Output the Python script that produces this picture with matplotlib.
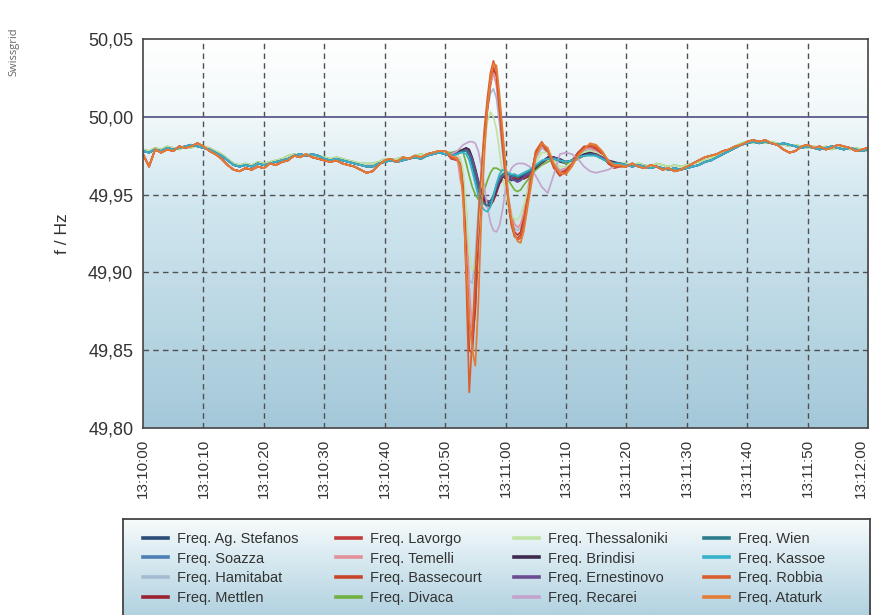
import matplotlib
matplotlib.use("Agg")
import numpy as np
import matplotlib.pyplot as plt
from matplotlib.colors import LinearSegmentedColormap
from matplotlib.lines import Line2D

plt.rcParams['font.family'] = ['Liberation Sans', 'DejaVu Sans']

# ------------------------------------------------------------
# data (seconds after 13:10:00, Hz)
# ------------------------------------------------------------
pre_t = list(range(0, 51))
post_t = list(range(80, 121))
ev_t = [51, 52, 52.5, 53, 53.5, 54, 54.5, 55, 55.5, 56, 56.5, 57, 57.5, 58, 58.5,
        59, 59.5, 60, 60.5, 61, 61.5, 62, 62.5, 63, 64, 65, 66, 67, 68, 69, 70,
        71, 72, 73, 74, 75, 76, 77, 78, 79]

# shared quiet parts of the band (three slightly different strands)
pre_cool = [49.978, 49.977, 49.979, 49.978, 49.980, 49.979, 49.980, 49.981, 49.982, 49.981,
            49.980, 49.979, 49.977, 49.975, 49.972, 49.969, 49.968, 49.969, 49.968, 49.970,
            49.969, 49.970, 49.971, 49.972, 49.973, 49.975, 49.976, 49.975, 49.976, 49.975,
            49.973, 49.972, 49.973, 49.972, 49.971, 49.970, 49.969, 49.968, 49.968, 49.970,
            49.971, 49.972, 49.971, 49.972, 49.973, 49.974, 49.973, 49.975, 49.976, 49.977,
            49.976]
post_cool = [49.969, 49.968, 49.969, 49.968, 49.967, 49.968, 49.967, 49.966, 49.967, 49.966,
             49.967, 49.968, 49.969, 49.971, 49.972, 49.974, 49.976, 49.978, 49.980, 49.982,
             49.983, 49.984, 49.983, 49.984, 49.983, 49.982, 49.983, 49.982, 49.981, 49.980,
             49.981, 49.980, 49.979, 49.980, 49.981, 49.980, 49.979, 49.980, 49.979, 49.978,
             49.979]
pre_warm = [49.976, 49.968, 49.979, 49.977, 49.979, 49.978, 49.981, 49.980, 49.981, 49.983,
            49.981, 49.978, 49.976, 49.973, 49.969, 49.966, 49.965, 49.967, 49.966, 49.968,
            49.967, 49.970, 49.969, 49.971, 49.972, 49.975, 49.974, 49.976, 49.974, 49.973,
            49.972, 49.971, 49.972, 49.970, 49.969, 49.968, 49.966, 49.964, 49.965, 49.969,
            49.972, 49.973, 49.971, 49.974, 49.973, 49.975, 49.974, 49.976, 49.977, 49.978,
            49.978]
post_warm = [49.968, 49.970, 49.968, 49.967, 49.969, 49.968, 49.966, 49.967, 49.965, 49.966,
             49.968, 49.970, 49.972, 49.974, 49.975, 49.976, 49.978, 49.979, 49.981, 49.982,
             49.984, 49.985, 49.984, 49.985, 49.983, 49.982, 49.979, 49.977, 49.978, 49.981,
             49.982, 49.980, 49.981, 49.979, 49.980, 49.982, 49.981, 49.980, 49.978, 49.979,
             49.980]
pre_green = [49.979, 49.978, 49.980, 49.979, 49.981, 49.980, 49.979, 49.981, 49.980, 49.982,
             49.981, 49.980, 49.978, 49.976, 49.973, 49.970, 49.969, 49.970, 49.969, 49.971,
             49.970, 49.971, 49.972, 49.973, 49.975, 49.976, 49.975, 49.976, 49.975, 49.975,
             49.974, 49.973, 49.974, 49.973, 49.972, 49.971, 49.970, 49.970, 49.970, 49.971,
             49.973, 49.972, 49.973, 49.974, 49.973, 49.975, 49.976, 49.975, 49.977, 49.978,
             49.977]
post_green = [49.970, 49.969, 49.970, 49.969, 49.968, 49.970, 49.969, 49.968, 49.969, 49.968,
              49.969, 49.970, 49.971, 49.972, 49.974, 49.975, 49.977, 49.979, 49.981, 49.983,
              49.984, 49.983, 49.984, 49.983, 49.984, 49.983, 49.982, 49.981, 49.982, 49.981,
              49.980, 49.981, 49.980, 49.981, 49.979, 49.980, 49.981, 49.979, 49.980, 49.979,
              49.978]

# event window, one strand per station
ev_ag_stefanos = [49.975, 49.976, 49.977, 49.978, 49.979, 49.977, 49.972, 49.965, 49.957, 49.950,
                  49.946, 49.944, 49.944, 49.947, 49.952, 49.957, 49.960, 49.961, 49.960, 49.959,
                  49.960, 49.959, 49.960, 49.961, 49.963, 49.967, 49.971, 49.973, 49.973, 49.971,
                  49.970, 49.972, 49.974, 49.975, 49.976, 49.975, 49.973, 49.971, 49.970, 49.969]
ev_soazza = [49.975, 49.976, 49.978, 49.979, 49.979, 49.976, 49.970, 49.962, 49.955, 49.948,
             49.944, 49.942, 49.943, 49.947, 49.953, 49.958, 49.961, 49.962, 49.962, 49.961,
             49.962, 49.961, 49.962, 49.962, 49.964, 49.968, 49.971, 49.974, 49.974, 49.972,
             49.971, 49.972, 49.974, 49.976, 49.977, 49.976, 49.974, 49.972, 49.970, 49.970]
ev_hamitabat = [49.975, 49.974, 49.972, 49.960, 49.925, 49.895, 49.893, 49.910, 49.940, 49.965,
                49.988, 50.005, 50.015, 50.018, 50.012, 49.996, 49.978, 49.960, 49.945, 49.934,
                49.928, 49.927, 49.929, 49.936, 49.957, 49.973, 49.980, 49.977, 49.970, 49.966,
                49.967, 49.971, 49.975, 49.978, 49.979, 49.978, 49.975, 49.971, 49.969, 49.969]
ev_mettlen = [49.976, 49.977, 49.978, 49.979, 49.980, 49.978, 49.973, 49.966, 49.958, 49.951,
              49.946, 49.943, 49.943, 49.946, 49.951, 49.957, 49.960, 49.961, 49.961, 49.960,
              49.961, 49.960, 49.961, 49.960, 49.962, 49.966, 49.970, 49.973, 49.974, 49.972,
              49.970, 49.971, 49.973, 49.975, 49.976, 49.976, 49.974, 49.972, 49.970, 49.969]
ev_lavorgo = [49.973, 49.972, 49.970, 49.958, 49.915, 49.868, 49.856, 49.875, 49.918, 49.955,
              49.982, 50.004, 50.020, 50.030, 50.027, 50.010, 49.988, 49.966, 49.946, 49.933,
              49.926, 49.924, 49.926, 49.935, 49.958, 49.976, 49.982, 49.978, 49.969, 49.964,
              49.966, 49.972, 49.977, 49.980, 49.980, 49.979, 49.975, 49.970, 49.968, 49.969]
ev_temelli = [49.976, 49.974, 49.960, 49.952, 49.940, 49.890, 49.862, 49.885, 49.925, 49.960,
              49.988, 50.008, 50.022, 50.028, 50.020, 50.000, 49.980, 49.962, 49.947, 49.937,
              49.931, 49.929, 49.931, 49.938, 49.960, 49.976, 49.981, 49.977, 49.969, 49.965,
              49.967, 49.972, 49.976, 49.979, 49.980, 49.978, 49.975, 49.971, 49.969, 49.969]
ev_bassecourt = [49.974, 49.973, 49.969, 49.950, 49.905, 49.850, 49.848, 49.880, 49.925, 49.958,
                 49.985, 50.008, 50.024, 50.032, 50.026, 50.005, 49.982, 49.962, 49.943, 49.930,
                 49.923, 49.922, 49.924, 49.932, 49.957, 49.977, 49.983, 49.977, 49.967, 49.962,
                 49.965, 49.971, 49.977, 49.981, 49.981, 49.980, 49.976, 49.970, 49.967, 49.968]
ev_divaca = [49.977, 49.978, 49.979, 49.977, 49.970, 49.962, 49.955, 49.950, 49.947, 49.948,
             49.953, 49.959, 49.964, 49.967, 49.967, 49.966, 49.964, 49.962, 49.959, 49.956,
             49.953, 49.952, 49.953, 49.956, 49.961, 49.966, 49.969, 49.971, 49.973, 49.972,
             49.970, 49.971, 49.973, 49.975, 49.976, 49.975, 49.973, 49.971, 49.970, 49.970]
ev_thessaloniki = [49.976, 49.975, 49.974, 49.965, 49.940, 49.912, 49.901, 49.905, 49.930, 49.958,
                   49.982, 49.997, 50.003, 50.000, 49.992, 49.978, 49.963, 49.951, 49.942, 49.937,
                   49.934, 49.934, 49.937, 49.943, 49.957, 49.970, 49.977, 49.977, 49.972, 49.968,
                   49.968, 49.971, 49.975, 49.977, 49.978, 49.977, 49.975, 49.972, 49.970, 49.970]
ev_brindisi = [49.976, 49.977, 49.978, 49.979, 49.980, 49.979, 49.974, 49.967, 49.959, 49.952,
               49.947, 49.945, 49.945, 49.948, 49.953, 49.958, 49.961, 49.962, 49.961, 49.962,
               49.963, 49.962, 49.961, 49.962, 49.964, 49.967, 49.971, 49.974, 49.974, 49.973,
               49.971, 49.972, 49.974, 49.976, 49.977, 49.976, 49.974, 49.972, 49.971, 49.970]
ev_ernestinovo = [49.976, 49.977, 49.977, 49.978, 49.979, 49.977, 49.973, 49.966, 49.958, 49.952,
                  49.948, 49.946, 49.946, 49.949, 49.954, 49.959, 49.962, 49.962, 49.961, 49.960,
                  49.959, 49.958, 49.959, 49.961, 49.964, 49.968, 49.971, 49.973, 49.974, 49.972,
                  49.971, 49.972, 49.974, 49.975, 49.976, 49.976, 49.974, 49.972, 49.970, 49.970]
ev_recarei = [49.976, 49.978, 49.980, 49.982, 49.983, 49.984, 49.984, 49.983, 49.978, 49.968,
              49.955, 49.942, 49.932, 49.927, 49.926, 49.930, 49.940, 49.953, 49.962, 49.967,
              49.969, 49.970, 49.970, 49.970, 49.968, 49.962, 49.955, 49.951, 49.963, 49.976,
              49.977, 49.976, 49.973, 49.968, 49.965, 49.964, 49.965, 49.966, 49.968, 49.969]
ev_wien = [49.975, 49.976, 49.977, 49.978, 49.978, 49.975, 49.969, 49.961, 49.953, 49.947,
           49.944, 49.943, 49.945, 49.950, 49.956, 49.961, 49.963, 49.964, 49.963, 49.962,
           49.962, 49.961, 49.962, 49.963, 49.965, 49.968, 49.971, 49.973, 49.973, 49.972,
           49.971, 49.972, 49.974, 49.975, 49.976, 49.975, 49.973, 49.971, 49.970, 49.970]
ev_kassoe = [49.975, 49.976, 49.977, 49.977, 49.976, 49.972, 49.965, 49.957, 49.949, 49.943,
             49.940, 49.939, 49.942, 49.949, 49.957, 49.963, 49.966, 49.965, 49.964, 49.963,
             49.963, 49.962, 49.963, 49.964, 49.966, 49.969, 49.972, 49.973, 49.973, 49.972,
             49.971, 49.972, 49.974, 49.975, 49.975, 49.975, 49.973, 49.971, 49.970, 49.970]
ev_robbia = [49.974, 49.972, 49.970, 49.955, 49.895, 49.823, 49.858, 49.900, 49.935, 49.965,
             49.992, 50.012, 50.028, 50.036, 50.030, 50.008, 49.985, 49.964, 49.944, 49.931,
             49.924, 49.921, 49.922, 49.930, 49.956, 49.978, 49.984, 49.978, 49.968, 49.963,
             49.964, 49.970, 49.976, 49.980, 49.982, 49.981, 49.977, 49.971, 49.968, 49.968]
ev_ataturk = [49.975, 49.973, 49.968, 49.945, 49.905, 49.870, 49.850, 49.840, 49.880, 49.935,
              49.975, 50.005, 50.024, 50.034, 50.033, 50.015, 49.992, 49.970, 49.948, 49.934,
              49.925, 49.920, 49.919, 49.926, 49.950, 49.974, 49.983, 49.980, 49.970, 49.964,
              49.963, 49.968, 49.975, 49.979, 49.983, 49.982, 49.978, 49.972, 49.969, 49.969]

names = ["Freq. Ag. Stefanos", "Freq. Soazza", "Freq. Hamitabat", "Freq. Mettlen",
         "Freq. Lavorgo", "Freq. Temelli", "Freq. Bassecourt", "Freq. Divaca",
         "Freq. Thessaloniki", "Freq. Brindisi", "Freq. Ernestinovo", "Freq. Recarei",
         "Freq. Wien", "Freq. Kassoe", "Freq. Robbia", "Freq. Ataturk"]
events = [ev_ag_stefanos, ev_soazza, ev_hamitabat, ev_mettlen,
          ev_lavorgo, ev_temelli, ev_bassecourt, ev_divaca,
          ev_thessaloniki, ev_brindisi, ev_ernestinovo, ev_recarei,
          ev_wien, ev_kassoe, ev_robbia, ev_ataturk]
strand = ["cool", "cool", "cool", "warm", "warm", "warm", "warm", "green",
          "green", "cool", "cool", "cool", "cool", "cool", "warm", "warm"]

x_ticks = [0, 10, 20, 30, 40, 50, 60, 70, 80, 90, 100, 110, 120]
x_labels = ["13:10:00", "13:10:10", "13:10:20", "13:10:30", "13:10:40", "13:10:50",
            "13:11:00", "13:11:10", "13:11:20", "13:11:30", "13:11:40", "13:11:50",
            "13:12:00"]
y_ticks = [49.80, 49.85, 49.90, 49.95, 50.00, 50.05]

colors = ["#2c4a78", "#4d7fb4", "#a4bcd2", "#9c2232",
          "#c23a3a", "#e2909a", "#c8452c", "#72b042",
          "#bfe3a4", "#3e2a4e", "#6b4c92", "#c4a4cc",
          "#2b7c8c", "#35b3ca", "#d9602e", "#e47c36"]

pre_parts = {"cool": pre_cool, "warm": pre_warm, "green": pre_green}
post_parts = {"cool": post_cool, "warm": post_warm, "green": post_green}

# ------------------------------------------------------------
fig = plt.figure(figsize=(8.71, 6.15), dpi=100)
fig.patch.set_facecolor("white")
ax = fig.add_axes([143 / 871, 1 - 428 / 615, 725 / 871, 389 / 615])

# background gradient of the plot area
bg = LinearSegmentedColormap.from_list(
    "bg", [(0.0, "#a4c8d9"), (0.6, "#d3e8f0"), (0.8, "#f1f8fa"), (1.0, "#ffffff")])
ax.imshow(np.linspace(0, 1, 256)[:, None], extent=[0, 120, 49.80, 50.05],
          origin="lower", aspect="auto", cmap=bg, zorder=0)

for yv in [49.85, 49.90, 49.95]:
    ax.axhline(yv, color="#505050", lw=1.0, ls=(0, (4, 3)), zorder=1)
for xv in x_ticks[1:-1]:
    ax.axvline(xv, color="#505050", lw=1.0, ls=(0, (4, 3)), zorder=1)
ax.axhline(50.00, color="#5a5a8c", lw=1.3, zorder=1)

for name, ev, s, c in zip(names, events, strand, colors):
    xs = pre_t + ev_t + post_t
    ys = pre_parts[s] + ev + post_parts[s]
    ax.plot(xs, ys, color=c, lw=1.25, zorder=2)

ax.set_xlim(0, 120)
ax.set_ylim(49.80, 50.05)
ax.set_xticks(x_ticks)
ax.set_xticklabels(x_labels, rotation=90, fontsize=11, color="#333333")
ax.get_xticklabels()[-1].set_horizontalalignment("right")
ax.set_yticks(y_ticks)
ax.set_yticklabels([("%.2f" % v).replace(".", ",") for v in y_ticks],
                   fontsize=13, color="#333333")
ax.tick_params(length=0, pad=7)
ax.tick_params(axis="x", pad=8)
for sp in ax.spines.values():
    sp.set_color("#444444")
    sp.set_linewidth(1.2)
ax.set_ylabel("f / Hz", fontsize=12.5, color="#333333")
ax.yaxis.set_label_coords((70 - 143) / 725, 0.5)

fig.text(14 / 871, 1 - 27 / 615, "Swissgrid", rotation=90, ha="center", va="top",
         fontsize=8, color="#666666", family=["Open Sans", "DejaVu Sans"])

# legend box with its own gradient
lax = fig.add_axes([123 / 871, 0, 747 / 871, 96 / 615])
lbg = LinearSegmentedColormap.from_list("lbg", [(0.0, "#b2d2e0"), (0.6, "#d9eaf1"), (1.0, "#f7fbfc")])
lax.imshow(np.linspace(0, 1, 64)[:, None], extent=[0, 1, 0, 1], origin="lower",
           aspect="auto", cmap=lbg, transform=lax.transAxes)
lax.set_xlim(0, 1)
lax.set_ylim(0, 1)
lax.set_xticks([])
lax.set_yticks([])
for sp in lax.spines.values():
    sp.set_color("#444444")
    sp.set_linewidth(1.3)
lax.spines["bottom"].set_visible(False)

col_x = [143, 336, 514, 704]
for ci in range(4):
    hs = [Line2D([], [], color=colors[ci * 4 + k], lw=2.6) for k in range(4)]
    fig.legend(hs, names[ci * 4:ci * 4 + 4], loc="upper left",
               bbox_to_anchor=(col_x[ci] / 871, 1 - 532 / 615), frameon=False,
               fontsize=10.5, handlelength=1.7, handletextpad=0.6,
               labelspacing=0.38, borderpad=0, borderaxespad=0, labelcolor="#333333")

fig.savefig("out.png", dpi=100)
